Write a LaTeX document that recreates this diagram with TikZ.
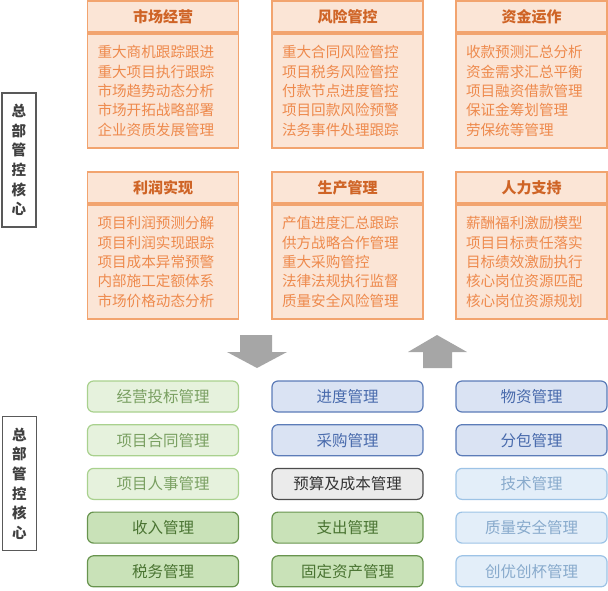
\documentclass[tikz,border=0pt]{standalone}
\usepackage{fontspec}
\setmainfont{Noto Sans CJK SC}
\usetikzlibrary{positioning}
\definecolor{peachfill}{HTML}{FBE5D6}
\definecolor{peachline}{HTML}{F2A46F}
\definecolor{headtext}{HTML}{CF6426}
\definecolor{bodytext}{HTML}{EE8A4D}
\definecolor{arrowgray}{HTML}{A6A6A6}
\tikzstyle{head} = [rectangle,
                   draw=peachline,
                   fill=peachfill,
                   line width=1.2pt,
                   minimum width=151pt,
                   minimum height=31pt,
                   inner sep=0pt,
                   outer sep=0pt,
                   text=headtext,
                   font=\fontsize{15}{18}\selectfont\bfseries]
\tikzstyle{body} = [rectangle,
                   draw=peachline,
                   fill=peachfill,
                   line width=1.2pt,
                   text width=131pt,
                   inner xsep=10pt,
                   inner ysep=0pt,
                   outer sep=0pt,
                   minimum height=114pt,
                   align=left,
                   text=bodytext,
                   font=\fontsize{14.6}{19.3}\selectfont]
\tikzstyle{core} = [rectangle,
                   draw=black!65,
                   fill=white,
                   line width=1.4pt,
                   minimum width=34pt,
                   minimum height=134pt,
                   inner sep=0pt,
                   align=center,
                   text=black!75,
                   font=\fontsize{14.5}{19.6}\selectfont\bfseries]
\tikzstyle{tile} = [rectangle,
                   rounded corners=6pt,
                   line width=1.2pt,
                   minimum width=151pt,
                   minimum height=31pt,
                   inner sep=0pt,
                   outer sep=0pt,
                   node distance=12.7pt,
                   font=\fontsize{15.5}{18}\selectfont]
\tikzstyle{paleGreen} = [tile, draw={rgb,255:red,169;green,209;blue,142}, fill={rgb,255:red,230;green,242;blue,221}, text={rgb,255:red,122;green,160;blue,98}]
\tikzstyle{darkGreen} = [tile, draw={rgb,255:red,104;green,148;blue,78}, fill={rgb,255:red,201;green,226;blue,184}, text={rgb,255:red,74;green,116;blue,50}]
\tikzstyle{midBlue} = [tile, draw={rgb,255:red,92;green,124;blue,184}, fill={rgb,255:red,218;green,227;blue,243}, text={rgb,255:red,72;green,106;blue,172}]
\tikzstyle{paleBlue} = [tile, draw={rgb,255:red,157;green,195;blue,230}, fill={rgb,255:red,227;green,238;blue,249}, text={rgb,255:red,136;green,170;blue,204}]
\tikzstyle{grayTile} = [tile, draw=black!70, fill=black!8, text=black!80]

\begin{document}
\begin{tikzpicture}[x=1pt,y=-1pt]
    \useasboundingbox (0,0) rectangle (608,590);

    % upper panels
    \node (h1) [head] at (163,16.5) {市场经营};
    \node (b1) [body, below=2pt of h1] {重大商机跟踪跟进\\重大项目执行跟踪\\市场趋势动态分析\\市场开拓战略部署\\企业资质发展管理};
    \node (h2) [head] at (347.5,16.5) {风险管控};
    \node (b2) [body, below=2pt of h2] {重大合同风险管控\\项目税务风险管控\\付款节点进度管控\\项目回款风险预警\\法务事件处理跟踪};
    \node (h3) [head] at (531.5,16.5) {资金运作};
    \node (b3) [body, below=2pt of h3] {收款预测汇总分析\\资金需求汇总平衡\\项目融资借款管理\\保证金筹划管理\\劳保统等管理};
    \node (h4) [head] at (163,187.5) {利润实现};
    \node (b4) [body, below=2pt of h4] {项目利润预测分解\\项目利润实现跟踪\\项目成本异常预警\\内部施工定额体系\\市场价格动态分析};
    \node (h5) [head] at (347.5,187.5) {生产管理};
    \node (b5) [body, below=2pt of h5] {产值进度汇总跟踪\\供方战略合作管理\\重大采购管控\\法律法规执行监督\\质量安全风险管理};
    \node (h6) [head] at (531.5,187.5) {人力支持};
    \node (b6) [body, below=2pt of h6] {薪酬福利激励模型\\项目目标责任落实\\目标绩效激励执行\\核心岗位资源匹配\\核心岗位资源规划};

    % side labels
    \node (core1) [core] at (19,160) {总\\部\\管\\控\\核\\心};
    \node (core2) [core] at (19.5,483.5) {总\\部\\管\\控\\核\\心};

    % block arrows
    \fill[arrowgray] (240,335) -- (272,335) -- (272,352) -- (287,352) -- (257,368)
      -- (227,352) -- (240,352) -- cycle;
    \fill[arrowgray] (423,368) -- (452,368) -- (452,352) -- (467,352) -- (437,335)
      -- (408,352) -- (423,352) -- cycle;

    % lower tiles
    \node (t11) [paleGreen] at (163,396.5) {经营投标管理};
    \node (t12) [paleGreen, below=of t11] {项目合同管理};
    \node (t13) [paleGreen, below=of t12] {项目人事管理};
    \node (t14) [darkGreen, below=of t13] {收入管理};
    \node (t15) [darkGreen, below=of t14] {税务管理};
    \node (t21) [midBlue] at (347.5,396.5) {进度管理};
    \node (t22) [midBlue, below=of t21] {采购管理};
    \node (t23) [grayTile, below=of t22] {预算及成本管理};
    \node (t24) [darkGreen, below=of t23] {支出管理};
    \node (t25) [darkGreen, below=of t24] {固定资产管理};
    \node (t31) [midBlue] at (531.5,396.5) {物资管理};
    \node (t32) [midBlue, below=of t31] {分包管理};
    \node (t33) [paleBlue, below=of t32] {技术管理};
    \node (t34) [paleBlue, below=of t33] {质量安全管理};
    \node (t35) [paleBlue, below=of t34] {创优创杯管理};
\end{tikzpicture}
\end{document}
